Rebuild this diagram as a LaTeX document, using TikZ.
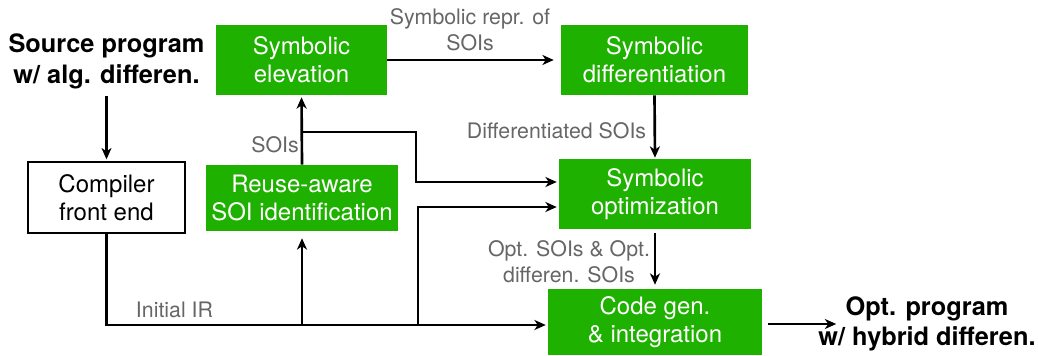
\documentclass[tikz,border=0pt]{standalone}
\usepackage{fontspec}
\setmainfont{TeX Gyre Heros}
\usetikzlibrary{arrows.meta}
\definecolor{boxgreen}{RGB}{30,177,0}
\definecolor{labelgray}{RGB}{102,102,102}

\begin{document}
\begin{tikzpicture}[x=0.75pt, y=-0.75pt,
    green box/.style={fill=boxgreen, text=white, inner sep=0pt, align=center, font=\fontsize{18}{21}\selectfont},
    front box/.style={draw=black, line width=1pt, fill=white, inner sep=0pt, align=center, font=\fontsize{18}{21}\selectfont},
    io text/.style={align=center, inner sep=0pt, font=\bfseries\fontsize{19}{23}\selectfont},
    gray label/.style={text=labelgray, align=center, inner sep=0pt, font=\fontsize{16}{19.5}\selectfont},
    flow/.style={line width=2pt, -{Stealth[length=8.5pt, width=7.5pt, inset=2.5pt]}},
]
    \useasboundingbox (0,0) rectangle (1038,356);

    % boxes
    \node[green box, minimum width=128.25pt, minimum height=52.5pt] (elev) at (301.5,60) {Symbolic\\elevation};
    \node[green box, minimum width=140.25pt, minimum height=52.5pt] (diff) at (654.5,60) {Symbolic\\differentiation};
    \node[green box, minimum width=144pt, minimum height=52.5pt] (opt) at (655,194) {Symbolic\\optimization};
    \node[green box, minimum width=160.5pt, minimum height=49.5pt] (codegen) at (655,322) {Code gen.\\\& integration};
    \node[green box, minimum width=144pt, minimum height=49.5pt] (reuse) at (302,198) {Reuse-aware\\SOI identification};
    \node[front box, minimum width=117.75pt, minimum height=53.25pt] (front) at (106.5,197.5) {Compiler\\front end};

    \node[io text] (src) at (106.5,61.5) {Source program\\w/ alg. differen.};
    \node[io text] (out) at (927,324) {Opt. program\\w/ hybrid differen.};

    % labels
    \node[gray label] (reprlbl) at (470,30) {Symbolic repr. of\\SOIs};
    \node[gray label] (difflbl) at (556.5,131) {Differentiated SOIs};
    \node[gray label] (soilbl) at (275,145) {SOIs};
    \node[gray label] (irlbl) at (174.5,310) {Initial IR};
    \node[gray label] (optlbl) at (569,262) {Opt. SOIs \& Opt.\\differen. SOIs};

    \coordinate (irline) at (0,325);
    \coordinate (elevjoin) at (302,132);
    \coordinate (soibend) at (416,132);
    \coordinate (optfeed) at (418,325);

    % connectors
    \draw[flow, shorten <=5pt, shorten >=1.5pt] (src) -- (front);
    \draw[flow, shorten >=1.5pt] (front.south) |- ([yshift=-2.25pt]codegen.west);
    \draw[flow, shorten >=5.25pt] (reuse.south |- irline) -- (reuse.south);
    \draw[flow, shorten >=1.5pt] (reuse.north) -- (elev.south);
    \draw[flow, shorten >=1.5pt] (elevjoin) -- (soibend) |- ([yshift=9pt]opt.west);
    \draw[flow, shorten >=1.5pt] (optfeed) |- ([yshift=-9.75pt]opt.west);
    \draw[flow, shorten >=5.25pt] (elev.east) -- (diff.west);
    \draw[flow, shorten >=0.75pt] (diff.south) -- (opt.north);
    \draw[flow, shorten <=3pt, shorten >=3pt] (opt.south) -- (codegen.north);
    \draw[flow, shorten <=4.5pt] ([yshift=-1.5pt]codegen.east) -- ([xshift=13.5pt]out.west);
\end{tikzpicture}
\end{document}
